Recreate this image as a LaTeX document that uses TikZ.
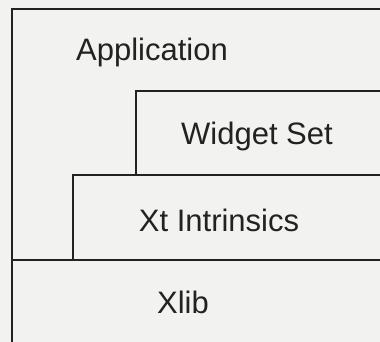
\documentclass[tikz,border=0pt]{standalone}
\usepackage{fontspec}
\setmainfont{Liberation Sans}
\definecolor{paper}{RGB}{242,242,240}
\definecolor{ink}{RGB}{34,34,34}

\begin{document}
\begin{tikzpicture}[x=1pt,y=-1pt]
\tikzstyle{every node}+=[inner sep=0pt,text=ink,font=\fontsize{31}{36}\selectfont]
\tikzstyle{layer}=[draw=ink,line width=1.4pt]

\fill [paper] (0,0) rectangle (380,342);
\useasboundingbox (0,0) rectangle (380,342);

\draw [layer] (380,9) -- (12,9) -- (12,342);
\draw (152,52) node (app) {Application};

\draw [layer] (136,175) -- (136,91) -- (380,91);
\draw (257,136) node (widget) {Widget Set};

\draw [layer] (73,260) -- (73,175) -- (380,175);
\draw (219,220) node (xt) {Xt Intrinsics};

\draw [layer] (12,260) -- (380,260);
\draw (183,302) node (xlib) {Xlib};
\end{tikzpicture}
\end{document}
